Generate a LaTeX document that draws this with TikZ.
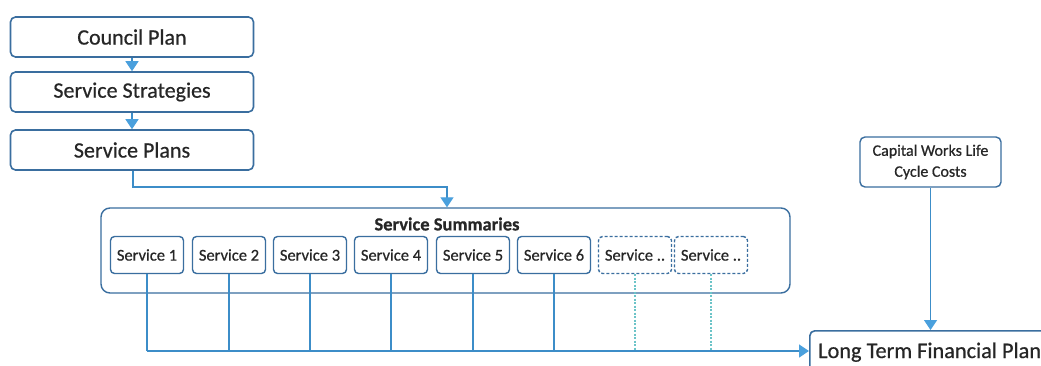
\documentclass[tikz,border=0pt]{standalone}
\usepackage{fontspec}
\setmainfont{Carlito}[FakeBold=0.6]
\usetikzlibrary{arrows.meta}
\definecolor{boxblue}{HTML}{3A6E9F}
\definecolor{lineblue}{HTML}{3C8DC8}
\definecolor{tipblue}{HTML}{4AA0DD}
\definecolor{dotteal}{HTML}{6CC4C8}
\definecolor{textgray}{HTML}{262626}
\tikzset{
  topbox/.style={draw=boxblue, line width=1.6pt, rounded corners=5pt, minimum width=243pt, minimum height=40pt, inner sep=0pt, text=textgray, font=\fontsize{22}{26}\selectfont},
  svcbox/.style={draw=boxblue, line width=1.4pt, rounded corners=4pt, minimum width=73pt, minimum height=37pt, inner sep=0pt, text=textgray, font=\fontsize{16.5}{19}\selectfont},
  svcdash/.style={svcbox, dashed, dash pattern=on 3pt off 2pt},
  conn/.style={draw=lineblue, line width=1.3pt},
  dotconn/.style={draw=dotteal, line width=1.4pt, dash pattern=on 2pt off 1.5pt},
  arr/.style={-{Triangle[width=13pt,length=10pt,color=tipblue]}},
}
\begin{document}
\begin{tikzpicture}[x=1pt,y=-1pt]
\useasboundingbox[fill=white] (0,0) rectangle (1041,366);
% top boxes
\node[topbox] (cp) at (132,37) {Council Plan};
\node[topbox] (ss) at (132,92) {Service Strategies};
\node[topbox] (sp) at (132,150) {Service Plans};
% summaries container
\node[draw=boxblue, line width=1.4pt, rounded corners=9pt, minimum width=689pt, minimum height=85pt, inner sep=0pt] (sum) at (445.5,250.5) {};
\node[font=\bfseries\fontsize{18.5}{21}\selectfont, text=textgray] (sumt) at (447,224) {Service Summaries};
% services
\node[svcbox] (s1) at (147,255) {Service 1};
\node[svcbox] (s2) at (229,255) {Service 2};
\node[svcbox] (s3) at (310,255) {Service 3};
\node[svcbox] (s4) at (391,255) {Service 4};
\node[svcbox] (s5) at (473,255) {Service 5};
\node[svcbox] (s6) at (554,255) {Service 6};
\node[svcdash] (s7) at (635,255) {Service ..};
\node[svcdash] (s8) at (711,255) {Service ..};
% capital works
\node[draw=boxblue, line width=1.4pt, rounded corners=5pt, minimum width=141pt, minimum height=50pt, inner sep=0pt, align=center, text=textgray, font=\fontsize{16}{21}\selectfont] (cw) at (930.5,162) {Capital Works Life\\Cycle Costs};
% long term financial plan
\node[draw=boxblue, line width=1.6pt, rounded corners=5pt, minimum width=260pt, minimum height=50pt, inner sep=0pt, anchor=north west] (lt) at (809,330) {};
\node[anchor=base west, inner sep=0pt, text=textgray, font=\fontsize{22.3}{26}\selectfont] (ltt) at (818,358) {Long Term Financial Plan};
% arrows between top boxes
\draw[conn, arr] (cp.south) -- (ss.north);
\draw[conn, arr] (ss.south) -- (sp.north);
\coordinate (b1) at (133,187);
\coordinate (b2) at (447,187);
\draw[conn, arr] (sp.south -| b1) -- (b1) -- (b2) -- (b2 |- sum.north);
% service connectors
\coordinate (hl) at (147,351);
\draw[conn] (s1.south) -- (s1.south |- hl);
\draw[conn] (s2.south) -- (s2.south |- hl);
\draw[conn] (s3.south) -- (s3.south |- hl);
\draw[conn] (s4.south) -- (s4.south |- hl);
\draw[conn] (s5.south) -- (s5.south |- hl);
\draw[conn] (s6.south) -- (s6.south |- hl);
\draw[dotconn] (s7.south) -- (s7.south |- hl);
\draw[dotconn] (s8.south) -- (s8.south |- hl);
\draw[conn, arr] (hl) -- (hl -| lt.west);
\draw[conn, arr] (cw.south) -- (cw.south |- lt.north);
\end{tikzpicture}
\end{document}
